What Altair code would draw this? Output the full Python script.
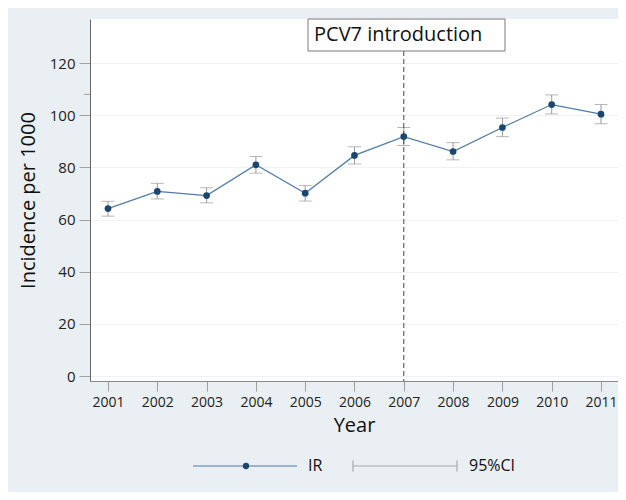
import altair as alt
import pandas as pd

years = [2001, 2002, 2003, 2004, 2005, 2006, 2007, 2008, 2009, 2010, 2011]
ir = [64.2, 70.8, 69.2, 81.0, 70.1, 84.6, 91.8, 86.1, 95.3, 104.1, 100.4]
ci_low = [61.3, 67.9, 66.4, 77.8, 67.1, 81.3, 88.4, 82.9, 91.8, 100.5, 96.7]
ci_high = [67.0, 73.9, 72.2, 84.2, 73.1, 87.9, 95.3, 89.5, 98.9, 107.8, 104.1]
y_ticks = [0, 20, 40, 60, 80, 100, 120]
y_minor_tick = [108]
intro_year = 2007
intro_label = "PCV7 introduction"
legend_labels = ["IR", "95%CI"]

FONT = "Open Sans"
NAVY = "#1a476f"
LINE = "#4f7cab"
CI = "#9a9a9a"

df = pd.DataFrame({"Year": years, "IR": ir, "lo": ci_low, "hi": ci_high})
dummy = pd.DataFrame({"a": [0]})
minor = pd.DataFrame({"v": y_minor_tick})

xs = alt.Scale(domain=[2000.635, 2011.345], nice=False, zero=False)
ys = alt.Scale(domain=[-1.9, 136.9], nice=False, zero=False)

x_axis = alt.Axis(values=years, format="d", title="Year", grid=False,
                  tickSize=10, tickColor="#a0a0a0", domainColor="#8a8a8a",
                  labelFontSize=14, labelColor="#222222", labelFont=FONT, labelPadding=4,
                  titleFontSize=20, titleFont=FONT, titleFontWeight="normal",
                  titleColor="#111111", titlePadding=6)
y_axis = alt.Axis(values=y_ticks, title="Incidence per 1000", grid=True,
                  gridColor="#eff2f4", tickSize=11, tickColor="#a0a0a0",
                  domainColor="#666666", labelFontSize=15, labelColor="#222222",
                  labelFont=FONT, labelPadding=4, titleFontSize=20, titleFont=FONT,
                  titleFontWeight="normal", titleColor="#111111", titlePadding=11)

base = alt.Chart(df)

ci_rule = base.mark_rule(color=CI, strokeWidth=1).encode(
    x=alt.X("Year:Q", scale=xs, axis=x_axis),
    y=alt.Y("lo:Q", scale=ys, axis=y_axis),
    y2="hi:Q",
)
cap_lo = base.mark_tick(orient="horizontal", size=13, thickness=1, color=CI).encode(
    x=alt.X("Year:Q", scale=xs), y=alt.Y("lo:Q", scale=ys))
cap_hi = base.mark_tick(orient="horizontal", size=13, thickness=1, color=CI).encode(
    x=alt.X("Year:Q", scale=xs), y=alt.Y("hi:Q", scale=ys))

line = base.mark_line(color=LINE, strokeWidth=1.2).encode(
    x=alt.X("Year:Q", scale=xs), y=alt.Y("IR:Q", scale=ys))
pts = base.mark_circle(color=NAVY, size=45, opacity=1).encode(
    x=alt.X("Year:Q", scale=xs), y=alt.Y("IR:Q", scale=ys))

minor_tick = alt.Chart(minor).mark_rule(color="#a0a0a0", strokeWidth=1).encode(
    x=alt.value(-6), x2=alt.value(0), y=alt.Y("v:Q", scale=ys))

vline = alt.Chart(dummy).mark_rule(color="#444444", strokeDash=[5, 3], strokeWidth=1).encode(
    x=alt.datum(intro_year), y=alt.value(32), y2=alt.value(362))
box = alt.Chart(dummy).mark_rect(fill="white", stroke="#7a7a7a", strokeWidth=1).encode(
    x=alt.value(218), x2=alt.value(415), y=alt.value(0), y2=alt.value(32))
box_text = alt.Chart(dummy).mark_text(align="left", baseline="middle", fontSize=20,
                                      font=FONT, color="#111111").encode(
    x=alt.value(224), y=alt.value(16), text=alt.value(intro_label))

# legend
lg_y = 447
lg_line = alt.Chart(dummy).mark_rule(color="#7f9fc2", strokeWidth=1.5).encode(
    x=alt.value(103), x2=alt.value(207), y=alt.value(lg_y))
lg_dot = alt.Chart(dummy).mark_circle(color=NAVY, size=40, opacity=1).encode(
    x=alt.value(156), y=alt.value(lg_y))
lg_ir = alt.Chart(dummy).mark_text(align="left", baseline="middle", fontSize=16,
                                   font=FONT, color="#111111").encode(
    x=alt.value(218), y=alt.value(lg_y), text=alt.value(legend_labels[0]))
lg_ci = alt.Chart(dummy).mark_rule(color="#aaaaaa", strokeWidth=1.2).encode(
    x=alt.value(263), x2=alt.value(367), y=alt.value(lg_y))
lg_cap1 = alt.Chart(dummy).mark_rule(color="#aaaaaa", strokeWidth=1.2).encode(
    x=alt.value(263), y=alt.value(lg_y - 5.5), y2=alt.value(lg_y + 5.5))
lg_cap2 = alt.Chart(dummy).mark_rule(color="#aaaaaa", strokeWidth=1.2).encode(
    x=alt.value(367), y=alt.value(lg_y - 5.5), y2=alt.value(lg_y + 5.5))
lg_cit = alt.Chart(dummy).mark_text(align="left", baseline="middle", fontSize=16,
                                    font=FONT, color="#111111").encode(
    x=alt.value(379), y=alt.value(lg_y), text=alt.value(legend_labels[1]))

chart = alt.layer(
    ci_rule, cap_lo, cap_hi, minor_tick, vline, box, box_text, line, pts,
    lg_line, lg_dot, lg_ir, lg_ci, lg_cap1, lg_cap2, lg_cit,
).properties(
    width=528, height=362,
    autosize=alt.AutoSizeParams(type="none"),
    padding={"left": 82, "top": 11, "right": 0, "bottom": 111},
    background="#e9eff2",
).configure_view(fill="white", stroke=None)

chart.save("out.html", embed_options={"renderer": "svg", "actions": False})
